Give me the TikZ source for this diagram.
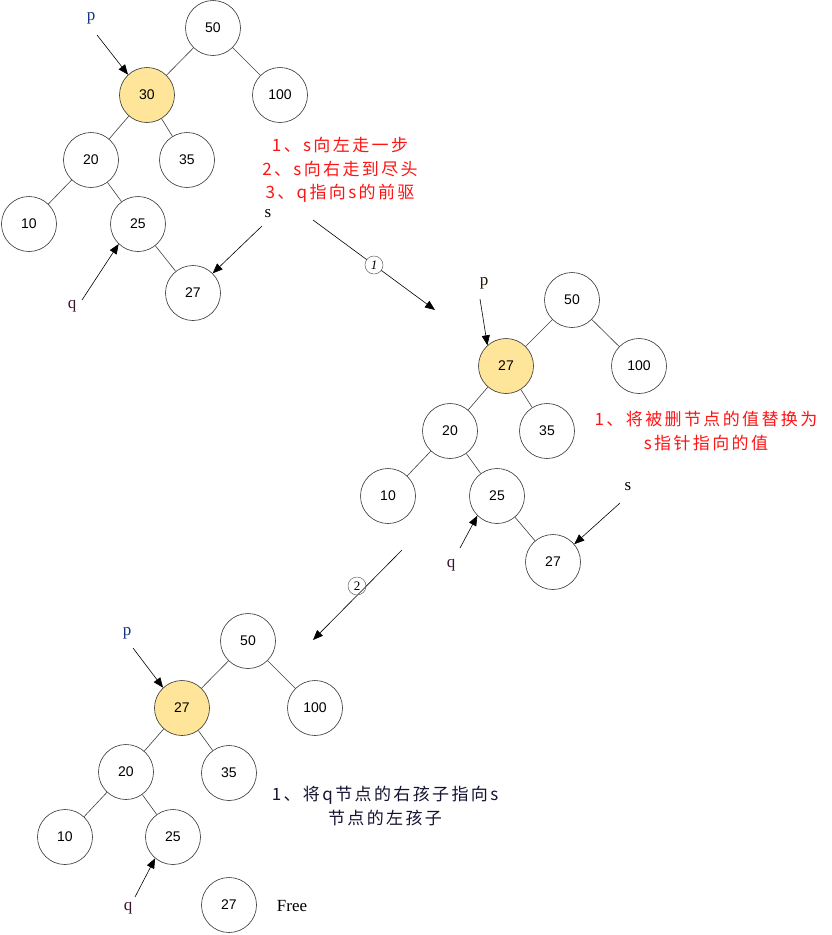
\documentclass[tikz,border=0pt]{standalone}
\usepackage{fontspec}
\setmainfont{Liberation Serif}
\newfontfamily\numf{Liberation Sans}
\newfontfamily\cjk[LetterSpace=14]{Noto Sans CJK SC}
\usetikzlibrary{arrows.meta}
\definecolor{hlfill}{RGB}{255,229,153}
\definecolor{pblue}{RGB}{20,50,130}
\definecolor{qdark}{RGB}{60,20,50}
\definecolor{txtred}{RGB}{255,20,20}
\definecolor{txtdark}{RGB}{20,20,50}
\tikzset{
  tn/.style={circle,draw=black!80,line width=0.6pt,minimum size=55pt,inner sep=0pt,font=\numf\fontsize{14}{16}\selectfont},
  hl/.style={fill=hlfill},
  edge/.style={draw=black!75,line width=0.6pt},
  ptr/.style={draw=black,line width=0.6pt,-{Triangle[length=10pt,width=8pt]}},
  lbl/.style={inner sep=0pt,font=\fontsize{17}{19}\selectfont},
  stepmark/.style={circle,draw=black!60,line width=0.5pt,inner sep=0pt,minimum size=18pt,font=\fontsize{13}{14}\selectfont},
  note/.style={align=center,inner sep=0pt,font=\cjk\fontsize{17}{23.5}\selectfont}
}
\begin{document}
\begin{tikzpicture}[x=1pt,y=-1pt]
\path[use as bounding box,fill=white] (0,0) rectangle (831,935);

% ---------- tree 1 ----------
\node[tn] (a50) at (213,28) {50};
\node[tn,hl] (a30) at (147,95) {30};
\node[tn] (a100) at (280,95) {100};
\node[tn] (a20) at (91,160) {20};
\node[tn] (a35) at (187,160) {35};
\node[tn] (a10) at (29,224) {10};
\node[tn] (a25) at (138,224) {25};
\node[tn] (a27) at (193,293) {27};
\draw[edge] (a50)--(a30) (a50)--(a100) (a30)--(a20) (a30)--(a35)
  (a20)--(a10) (a20)--(a25) (a25)--(a27);
\node[lbl,text=pblue] (ap) at (91,18) {p};
\node[lbl,text=qdark] (aq) at (72,306) {q};
\node[lbl] (as) at (268,214) {s};
\coordinate (apt) at (97,35);
\coordinate (aqt) at (82,300);
\coordinate (ast) at (262,226);
\draw[ptr] (apt) -- (a30.133);
\draw[ptr] (aqt) -- (a25.226);
\draw[ptr] (ast) -- (a27.45);
\node[note,text=txtred] (anote) at (340,170) {1、s向左走一步\\2、s向右走到尽头\\3、q指向s的前驱};

% step 1 arrow
\coordinate (m1s) at (313,220);
\coordinate (m1e) at (435,310);
\draw[ptr] (m1s) -- node[stepmark,fill=white] (m1) {\textit{1}} (m1e);

% ---------- tree 2 ----------
\node[tn] (b50) at (572,300) {50};
\node[tn,hl] (b27) at (506,366) {27};
\node[tn] (b100) at (639,366) {100};
\node[tn] (b20) at (450,431) {20};
\node[tn] (b35) at (547,431) {35};
\node[tn] (b10) at (388,496) {10};
\node[tn] (b25) at (497,496) {25};
\node[tn] (b27b) at (553,562) {27};
\draw[edge] (b50)--(b27) (b50)--(b100) (b27)--(b20) (b27)--(b35)
  (b20)--(b10) (b20)--(b25) (b25)--(b27b);
\node[lbl,text=black!85!orange] (bp) at (484,283) {p};
\node[lbl,text=qdark] (bq) at (451,565) {q};
\node[lbl] (bs) at (628,487) {s};
\coordinate (bpt) at (480,299);
\coordinate (bqt) at (460,548);
\coordinate (bst) at (620,503);
\draw[ptr] (bpt) -- (b27.132);
\draw[ptr] (bqt) -- (b25.225);
\draw[ptr] (bst) -- (b27b.40);
\node[note,text=txtred] (bnote) at (706,431) {1、将被删节点的值替换为\\s指针指向的值};

% step 2 arrow
\coordinate (m2s) at (402,550);
\coordinate (m2e) at (313,640);
\draw[ptr] (m2s) -- (m2e);
\node[stepmark] (m2) at (357,586) {2};

% ---------- tree 3 ----------
\node[tn] (c50) at (248,641) {50};
\node[tn,hl] (c27) at (182,708) {27};
\node[tn] (c100) at (315,708) {100};
\node[tn] (c20) at (126,772) {20};
\node[tn] (c35) at (229,773) {35};
\node[tn] (c10) at (65,837) {10};
\node[tn] (c25) at (173,837) {25};
\node[tn] (c27f) at (229,905) {27};
\draw[edge] (c50)--(c27) (c50)--(c100) (c27)--(c20) (c27)--(c35)
  (c20)--(c10) (c20)--(c25);
\node[lbl,text=pblue] (cp) at (127,633) {p};
\node[lbl,text=qdark] (cq) at (128,908) {q};
\coordinate (cpt) at (133,648);
\coordinate (cqt) at (135,897);
\draw[ptr] (cpt) -- (c27.133);
\draw[ptr] (cqt) -- (c25.230);
\node[lbl] (free) at (292,906) {Free};
\node[note,text=txtdark] (cnote) at (385,806) {1、将q节点的右孩子指向s\\节点的左孩子};
\end{tikzpicture}
\end{document}
